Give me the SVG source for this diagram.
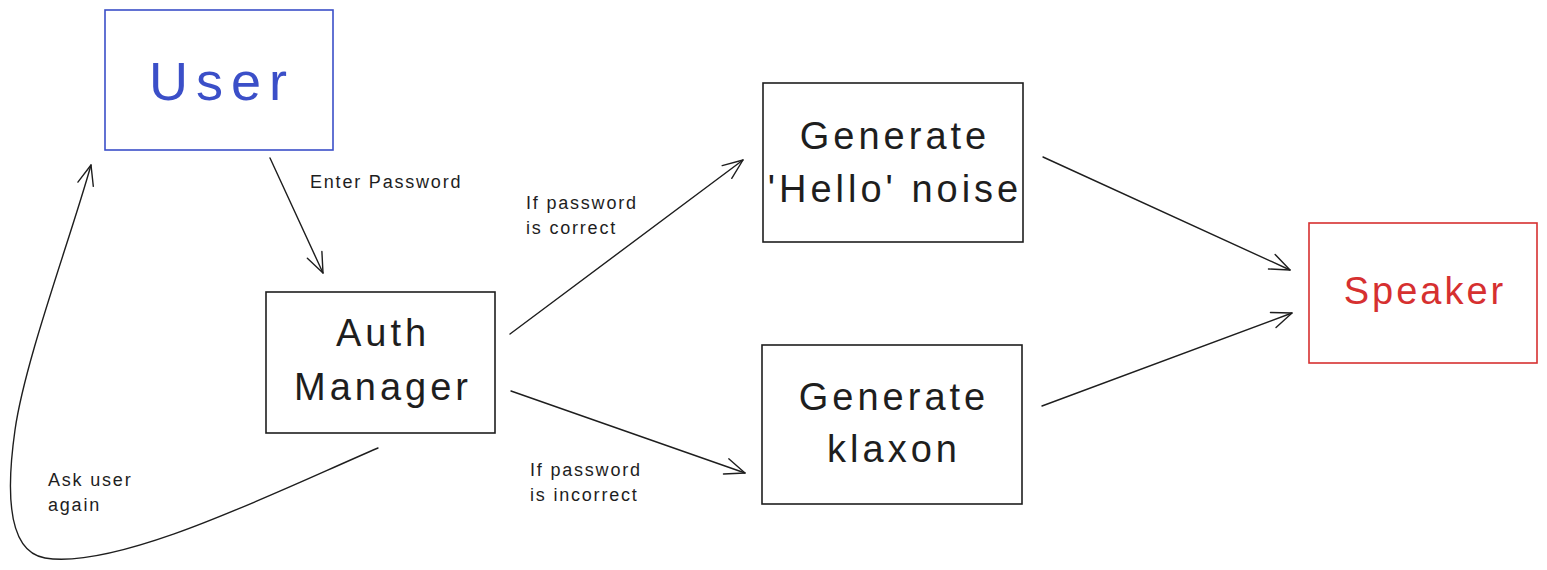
<svg xmlns="http://www.w3.org/2000/svg" width="1547" height="570" viewBox="0 0 1547 570">
<style>
.box{fill:#ffffff;stroke:#1e1e1e;stroke-width:1.6}
.big{font-family:"Liberation Sans",Arial,sans-serif;font-size:38px;fill:#1e1e1e;text-anchor:middle;letter-spacing:4px}
.lbl{font-family:"Liberation Sans",Arial,sans-serif;font-size:18px;fill:#1e1e1e;letter-spacing:1.8px}
.edge{fill:none;stroke:#1e1e1e;stroke-width:1.4;stroke-linecap:round}
</style>
<defs>
<marker id="ah" markerUnits="userSpaceOnUse" markerWidth="30" markerHeight="30" refX="22" refY="10" orient="auto" viewBox="0 0 30 20">
<path d="M2,2 L22,10 L2,18" fill="none" stroke="#1e1e1e" stroke-width="1.4" stroke-linecap="round" stroke-linejoin="round"/>
</marker>
</defs>
<rect width="1547" height="570" fill="#ffffff"/>
<g id="user">
<rect x="105" y="10" width="228" height="140" class="box" style="stroke:#3b4fc8"/>
<text x="222" y="100" class="big" style="font-size:54px;fill:#3b4fc8;letter-spacing:8px">User</text>
</g>
<g id="auth">
<rect x="266" y="292" width="229" height="141" class="box"/>
<text x="383" y="346" class="big">Auth</text>
<text x="383" y="400" class="big">Manager</text>
</g>
<g id="hello">
<rect x="763" y="83" width="260" height="159" class="box"/>
<text x="895" y="149" class="big">Generate</text>
<text x="895" y="202" class="big">'Hello' noise</text>
</g>
<g id="klaxon">
<rect x="762" y="345" width="260" height="159" class="box"/>
<text x="894" y="410" class="big">Generate</text>
<text x="894" y="462" class="big">klaxon</text>
</g>
<g id="speaker">
<rect x="1309" y="223" width="228" height="140" class="box" style="stroke:#d63030"/>
<text x="1425" y="304" class="big" style="fill:#d63030;letter-spacing:3px">Speaker</text>
</g>
<g id="connectors">
<line x1="270" y1="158" x2="323" y2="273" class="edge" marker-end="url(#ah)"/>
<line x1="510" y1="334" x2="743" y2="160" class="edge" marker-end="url(#ah)"/>
<line x1="511" y1="391" x2="745" y2="473" class="edge" marker-end="url(#ah)"/>
<line x1="1043" y1="157" x2="1290" y2="270" class="edge" marker-end="url(#ah)"/>
<line x1="1042" y1="406" x2="1292" y2="313" class="edge" marker-end="url(#ah)"/>
<path d="M378,448 C280,490 120,570 45,558 C10,552 5,500 15,430 C25,360 70,240 91,165" class="edge" marker-end="url(#ah)"/>
</g>
<g id="labels">
<text x="310" y="188" class="lbl">Enter Password</text>
<text x="526" y="209" class="lbl">If password</text>
<text x="526" y="234" class="lbl">is correct</text>
<text x="530" y="476" class="lbl">If password</text>
<text x="530" y="501" class="lbl">is incorrect</text>
<text x="48" y="486" class="lbl">Ask user</text>
<text x="48" y="511" class="lbl">again</text>
</g>
</svg>
